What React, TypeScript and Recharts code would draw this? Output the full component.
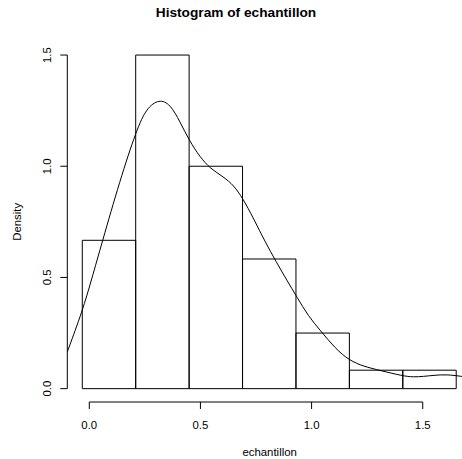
import { ComposedChart, XAxis, YAxis, Line, ReferenceArea, ReferenceLine, Label } from 'recharts'

// histogram breaks and densities (hist(echantillon, freq = FALSE))
const breaks = [-0.0315, 0.2088, 0.4491, 0.6894, 0.9297, 1.17, 1.4103, 1.6506]
const densities = [0.667, 1.5, 1.0, 0.583, 0.25, 0.083, 0.083]

// kernel density estimate
const kdeX = [
  -0.099, -0.03, 0.01, 0.056, 0.138, 0.213, 0.258, 0.314, 0.364, 0.408, 0.45, 0.499,
  0.544, 0.604, 0.649, 0.691, 0.739, 0.791, 0.841, 0.889, 0.934, 0.986, 1.039, 1.107,
  1.17, 1.234, 1.308, 1.41, 1.458, 1.504, 1.548, 1.608, 1.676,
]
const kdeY = [
  0.165, 0.352, 0.49, 0.652, 0.937, 1.165, 1.262, 1.302, 1.28, 1.2, 1.115, 1.04,
  0.99, 0.952, 0.915, 0.855, 0.765, 0.66, 0.57, 0.487, 0.412, 0.325, 0.262, 0.18,
  0.127, 0.1, 0.082, 0.057, 0.052, 0.055, 0.06, 0.064, 0.055,
]

const xTicks = [0, 0.5, 1, 1.5]
const yTicks = [0, 0.5, 1, 1.5]

const xDomain = [-0.0989, 1.7216]
const yDomain = [-0.06, 1.56]

const curve = kdeX.map((x, i) => ({ x, y: kdeY[i] }))
const bins = densities.map((d, i) => ({ from: breaks[i], to: breaks[i + 1], density: d }))

const font = '"Liberation Sans", Arial, Helvetica, sans-serif'
const fmt = (v: number) => v.toFixed(1)

function YTick({ x, y, payload }: any) {
  return (
    <text
      x={x}
      y={y}
      transform={`rotate(-90, ${x}, ${y})`}
      textAnchor="middle"
      fontSize={11.4}
      fontFamily={font}
      fill="#000"
    >
      {fmt(payload.value)}
    </text>
  )
}

function DensityLabel({ viewBox }: any) {
  const x = viewBox.x + 14.2
  const y = viewBox.y + viewBox.height / 2
  return (
    <text
      x={x}
      y={y}
      transform={`rotate(-90, ${x}, ${y})`}
      textAnchor="middle"
      fontSize={11.4}
      fontFamily={font}
      fill="#000"
    >
      Density
    </text>
  )
}

export default function App() {
  return (
    <div
      style={{
        position: 'fixed',
        left: 0,
        top: 0,
        width: 462,
        height: 459,
        overflow: 'hidden',
        background: '#fff',
      }}
    >
      <div
        style={{
          position: 'absolute',
          left: 0,
          top: 5.75,
          width: 472,
          textAlign: 'center',
          fontFamily: font,
          fontWeight: 'bold',
          fontSize: 13.7,
          lineHeight: '14px',
          color: '#000',
        }}
      >
        Histogram of echantillon
      </div>
      <ComposedChart
        width={472}
        height={459}
        data={curve}
        margin={{ top: 41.7, right: 0, bottom: 0, left: 7.3 }}
      >
        <XAxis
          dataKey="x"
          type="number"
          domain={xDomain}
          ticks={xTicks}
          tickFormatter={fmt}
          axisLine={false}
          tickLine={{ stroke: '#000' }}
          tickSize={7}
          tickMargin={11.5}
          height={57}
          interval={0}
          tick={{ fill: '#000', fontSize: 11.4, fontFamily: font }}
          allowDataOverflow
        >
          <Label
            value="echantillon"
            position="insideBottom"
            offset={2.7}
            fill="#000"
            fontSize={11.4}
            fontFamily={font}
          />
        </XAxis>
        <YAxis
          type="number"
          domain={yDomain}
          ticks={yTicks}
          axisLine={false}
          tickLine={{ stroke: '#000' }}
          tickSize={7}
          tickMargin={8.8}
          width={60}
          interval={0}
          tick={<YTick />}
          allowDataOverflow
        >
          <Label content={<DensityLabel />} />
        </YAxis>
        <ReferenceLine
          segment={[
            { x: xDomain[0], y: yTicks[0] },
            { x: xDomain[0], y: yTicks[yTicks.length - 1] },
          ]}
          stroke="#000"
          ifOverflow="visible"
        />
        <ReferenceLine
          segment={[
            { x: xTicks[0], y: yDomain[0] },
            { x: xTicks[xTicks.length - 1], y: yDomain[0] },
          ]}
          stroke="#000"
          ifOverflow="visible"
        />
        {bins.map((b, i) => (
          <ReferenceArea
            key={i}
            x1={b.from}
            x2={b.to}
            y1={0}
            y2={b.density}
            fill="#fff"
            fillOpacity={0}
            stroke="#000"
            strokeWidth={1}
            strokeOpacity={1}
            ifOverflow="visible"
          />
        ))}
        <Line
          dataKey="y"
          type="basis"
          stroke="#000"
          strokeWidth={1}
          dot={false}
          activeDot={false}
          isAnimationActive={false}
        />
      </ComposedChart>
    </div>
  )
}
